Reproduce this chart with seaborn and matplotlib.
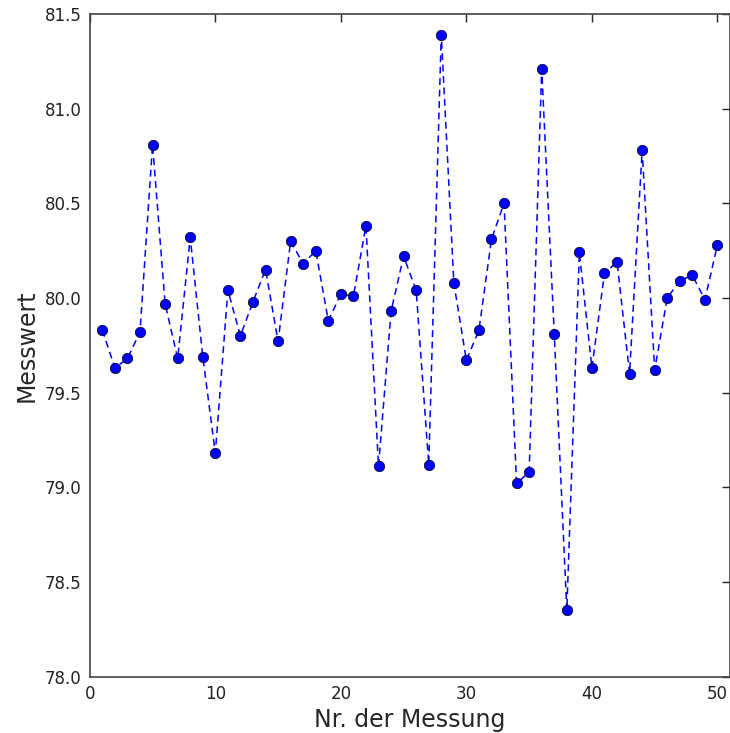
import matplotlib
matplotlib.use("Agg")
import matplotlib.pyplot as plt
import seaborn as sns
import pandas as pd

nr = list(range(1, 51))
messwert = [79.83, 79.63, 79.68, 79.82, 80.81, 79.97, 79.68, 80.32, 79.69, 79.18,
            80.04, 79.80, 79.98, 80.15, 79.77, 80.30, 80.18, 80.25, 79.88, 80.02,
            80.01, 80.38, 79.11, 79.93, 80.22, 80.04, 79.12, 81.39, 80.08, 79.67,
            79.83, 80.31, 80.50, 79.02, 79.08, 81.21, 79.81, 78.35, 80.24, 79.63,
            80.13, 80.19, 79.60, 80.78, 79.62, 80.00, 80.09, 80.12, 79.99, 80.28]
x_ticks = [0, 10, 20, 30, 40, 50]
y_ticks = [78.0, 78.5, 79.0, 79.5, 80.0, 80.5, 81.0, 81.5]

df = pd.DataFrame({"Nr": nr, "Wert": messwert})

sns.set_style("white")
plt.rcParams['font.family'] = ['DejaVu Sans']

fig = plt.figure(figsize=(7.3, 7.33), dpi=100)
ax = fig.add_axes([0.123, 0.077, 0.877, 0.904])
sns.lineplot(data=df, x="Nr", y="Wert", ax=ax, color="blue", linestyle="--",
             linewidth=1.1, marker="o", markersize=7.5, markeredgecolor="black",
             markeredgewidth=0.5, markerfacecolor="blue")
for ln in ax.lines:
    ln.set_dashes([4.5, 3.0])

ax.set_xlim(0, 51)
ax.set_ylim(78.0, 81.5)
ax.set_xticks(x_ticks)
ax.set_yticks(y_ticks)
ax.set_yticklabels([f"{v:.1f}" for v in y_ticks])
ax.tick_params(direction="in", length=6, width=1, top=True, right=True,
               labelsize=12, colors="#222222", pad=6)
for s in ax.spines.values():
    s.set_color("#444444")
    s.set_linewidth(1.2)
    s.set_visible(True)
ax.set_xlabel("Nr. der Messung", fontsize=17)
ax.set_ylabel("Messwert", fontsize=17)
fig.savefig("out.png", dpi=100, facecolor="white")
